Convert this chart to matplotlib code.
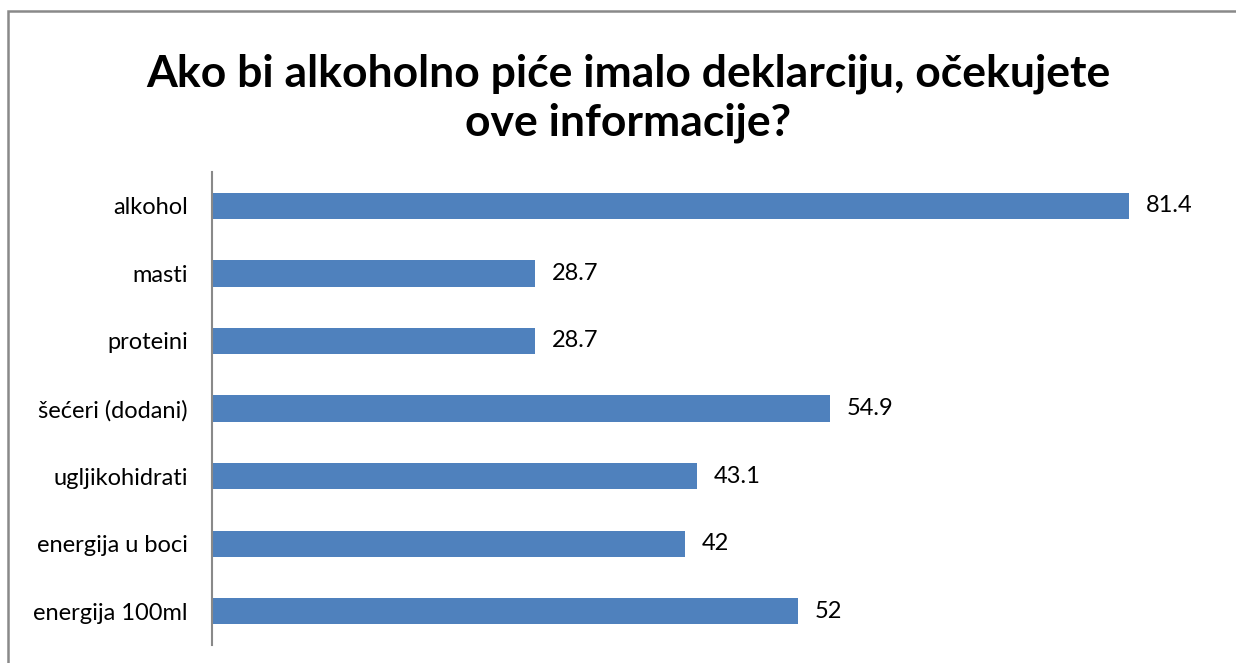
import matplotlib.pyplot as plt
from matplotlib.patches import Rectangle

plt.rcParams['font.family'] = ['Lato', 'DejaVu Sans']

categories = ['alkohol', 'masti', 'proteini', 'šećeri (dodani)',
              'ugljikohidrati', 'energija u boci', 'energija 100ml']
values = [81.4, 28.7, 28.7, 54.9, 43.1, 42, 52]
value_labels = ['81.4', '28.7', '28.7', '54.9', '43.1', '42', '52']

fig = plt.figure(figsize=(12.36, 6.63), dpi=100)
ax = fig.add_axes([0.1715, 0.027, 0.82, 0.7135])

pos = list(range(len(categories)))
ax.barh(pos, values, height=0.39, color='#4F81BD')
for p, v, lab in zip(pos, values, value_labels):
    ax.text(v + 1.5, p, lab, va='center', ha='left', fontsize=17, color='black')

ax.set_xlim(0, 90)
ax.set_ylim(6.5, -0.5)
ax.set_yticks(pos)
ax.set_yticklabels(categories, fontsize=17)
ax.tick_params(axis='y', length=0, pad=17.5)
ax.set_xticks([])
for s in ['top', 'right', 'bottom']:
    ax.spines[s].set_visible(False)
ax.spines['left'].set_color('#898989')
ax.spines['left'].set_linewidth(1.5)

fig.text(0.508, 0.852, 'Ako bi alkoholno piće imalo deklarciju, očekujete\nove informacije?',
         ha='center', va='center', fontsize=32, fontweight='bold', linespacing=1.27)

# chart border (cut off at right and bottom)
fig.patches.append(Rectangle((0.0068, -0.05), 1.05, 1.034, transform=fig.transFigure,
                             fill=False, edgecolor='#898989', linewidth=1.8))

fig.savefig('out.png', dpi=100)
